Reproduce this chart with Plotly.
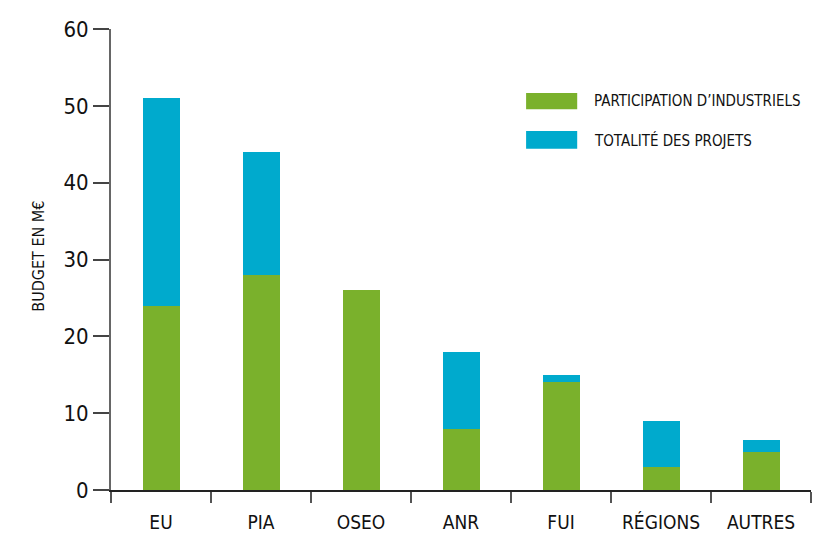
import plotly.graph_objects as go

categories = ["EU", "PIA", "OSEO", "ANR", "FUI", "RÉGIONS", "AUTRES"]
industriels = [24, 28, 26, 8, 14, 3, 5]
totalite = [51, 44, 26, 18, 15, 9, 6.5]
series_names = ["PARTICIPATION D’INDUSTRIELS", "TOTALITÉ DES PROJETS"]
y_title = "BUDGET EN M€"

GREEN = "#7AB12C"
BLUE = "#00AACD"
FONT = "DejaVu Sans Condensed, Liberation Sans Narrow, sans-serif"

# the blue part sits on top of the green one, up to the project total
reste = [t - i for t, i in zip(totalite, industriels)]

fig = go.Figure()
fig.add_trace(go.Bar(x=categories, y=industriels, name=series_names[0],
                     marker=dict(color=GREEN, line=dict(width=0)), width=0.37))
fig.add_trace(go.Bar(x=categories, y=reste, name=series_names[1],
                     marker=dict(color=BLUE, line=dict(width=0)), width=0.37))

fig.update_layout(
    barmode="stack",
    width=813, height=536,
    margin=dict(l=111, r=2, t=29, b=46),
    paper_bgcolor="white",
    plot_bgcolor="white",
    showlegend=False,
    font=dict(family=FONT, color="#111"),
)

fig.update_xaxes(
    showline=True, linecolor="#222", linewidth=2,
    ticks="outside", tickson="boundaries", ticklen=11, tickwidth=2, tickcolor="#555",
    tickfont=dict(size=19, family=FONT, color="#111"),
    ticklabelstandoff=14,
    showgrid=False, zeroline=False,
)
fig.update_yaxes(
    range=[0, 60], dtick=10,
    showline=True, linecolor="#666", linewidth=2,
    ticks="outside", ticklen=16, tickwidth=2, tickcolor="#444",
    tickfont=dict(size=22, family=FONT, color="#111"),
    showgrid=False, zeroline=False,
)

# legend drawn by hand: wide flat swatches
swatches = [(GREEN, 0.826, 0.861, 0.844), (BLUE, 0.740, 0.779, 0.759)]
for (col, y0, y1, ym), label in zip(swatches, series_names):
    fig.add_shape(type="rect", xref="paper", yref="paper",
                  x0=0.593, x1=0.666, y0=y0, y1=y1,
                  fillcolor=col, line=dict(width=0))
    fig.add_annotation(text=label, xref="paper", yref="paper",
                       x=0.687, y=ym, xanchor="left", yanchor="middle",
                       showarrow=False, font=dict(size=15, family=FONT, color="#111"))

fig.add_annotation(text=y_title, xref="paper", yref="paper",
                   x=-0.103, y=0.508, textangle=-90,
                   xanchor="center", yanchor="middle", showarrow=False,
                   font=dict(size=16, family=FONT, color="#111"))

fig.write_html("out.html", config={"displayModeBar": False},
               post_script="document.body.style.margin='0';")
